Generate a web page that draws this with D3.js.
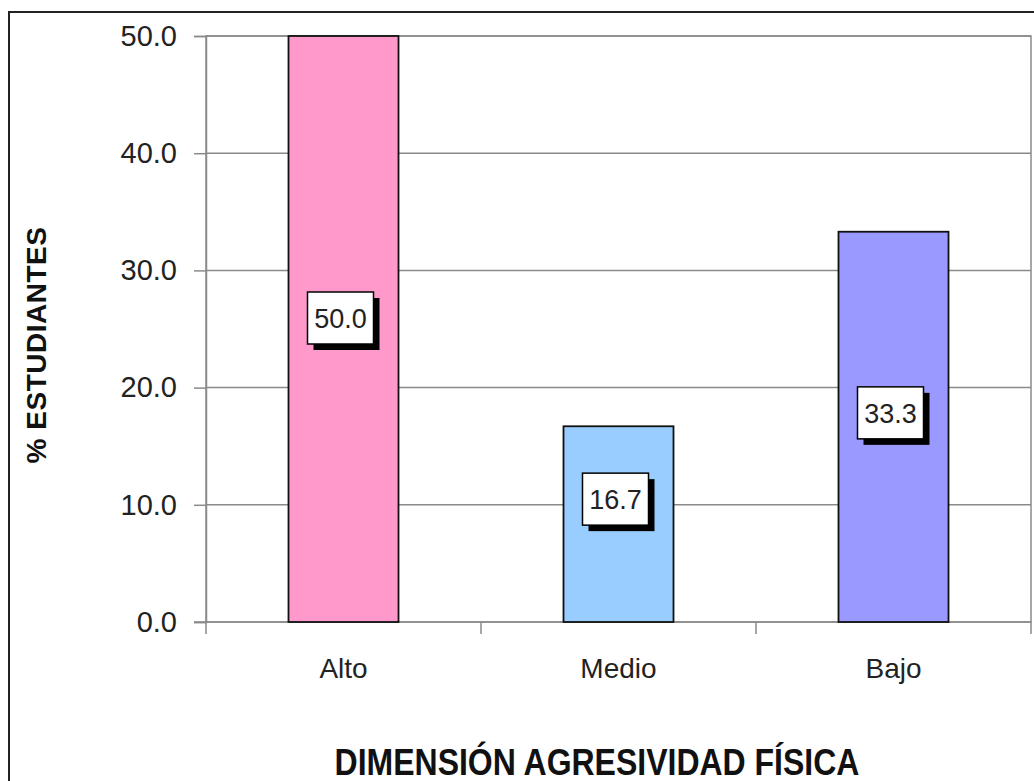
<!DOCTYPE html>
<html>
<head>
<meta charset="utf-8">
<script src="https://cdn.jsdelivr.net/npm/d3@7"></script>
<style>
  html, body { margin: 0; padding: 0; background: #ffffff; }
  svg { display: block; }
  text { font-family: "Liberation Sans", Arial, sans-serif; }
</style>
</head>
<body>
<svg id="chart" width="1034" height="781"></svg>
<script>
// ---- data ----
const categories = ["Alto", "Medio", "Bajo"];
const values = [50.0, 16.7, 33.3];
const yTicks = [0, 10, 20, 30, 40, 50];
const yTitle = "% ESTUDIANTES";
const xTitle = "DIMENSIÓN AGRESIVIDAD FÍSICA";

// ---- styles ----
const barColors = ["#FF99CC", "#99CCFF", "#9999FF"];
const labelNudge = [-11, -25, -14];

const svg = d3.select("#chart");
const W = 1034, H = 781;
const plot = { left: 206, right: 1031, top: 36, bottom: 622 };

// outer frame
svg.append("rect")
  .attr("x", 9).attr("y", 12)
  .attr("width", W + 10).attr("height", H + 10)
  .attr("fill", "#fff").attr("stroke", "#222").attr("stroke-width", 2);

const x = d3.scaleBand()
  .domain(categories)
  .range([plot.left, plot.right])
  .paddingInner(0.6).paddingOuter(0.3);

const y = d3.scaleLinear().domain([0, 50]).range([plot.bottom, plot.top]);

// plot area border (top/right)
svg.append("rect")
  .attr("x", plot.left).attr("y", plot.top)
  .attr("width", plot.right - plot.left).attr("height", plot.bottom - plot.top)
  .attr("fill", "none").attr("stroke", "#8a8a8a").attr("stroke-width", 1.5);

// gridlines
svg.append("g").selectAll("line").data(yTicks.filter(d => d > 0)).join("line")
  .attr("x1", plot.left).attr("x2", plot.right)
  .attr("y1", d => y(d)).attr("y2", d => y(d))
  .attr("stroke", "#8a8a8a").attr("stroke-width", 1.5);

// y axis
const yAxis = svg.append("g")
  .attr("transform", `translate(${plot.left},0)`)
  .call(d3.axisLeft(y).tickValues(yTicks).tickFormat(d3.format(".1f")).tickSize(12).tickPadding(17));
yAxis.select(".domain").attr("stroke", "#8a8a8a").attr("stroke-width", 1.5);
yAxis.selectAll(".tick line").attr("stroke", "#8a8a8a").attr("stroke-width", 1.5);
yAxis.selectAll(".tick text")
  .attr("font-size", 29).attr("fill", "#222")
  .attr("font-family", "Liberation Sans, Arial, sans-serif");

// x axis
const xEdges = d3.range(categories.length + 1).map(i => plot.left + i * x.step());
const xAxisG = svg.append("g");
xAxisG.append("line")
  .attr("x1", plot.left - 12).attr("x2", plot.right)
  .attr("y1", plot.bottom).attr("y2", plot.bottom)
  .attr("stroke", "#8a8a8a").attr("stroke-width", 1.5);
xAxisG.selectAll("line.tk").data(xEdges).join("line").attr("class", "tk")
  .attr("x1", d => d).attr("x2", d => d)
  .attr("y1", plot.bottom).attr("y2", plot.bottom + 12)
  .attr("stroke", "#8a8a8a").attr("stroke-width", 1.5);
xAxisG.selectAll("text").data(categories).join("text")
  .attr("x", d => x(d) + x.bandwidth() / 2)
  .attr("y", 678)
  .attr("text-anchor", "middle")
  .attr("font-size", 28).attr("fill", "#222")
  .text(d => d);

// bars
const data = categories.map((c, i) => ({ c, v: values[i], color: barColors[i], nudge: labelNudge[i] }));
svg.append("g").selectAll("rect").data(data).join("rect")
  .attr("x", d => x(d.c))
  .attr("y", d => y(d.v))
  .attr("width", x.bandwidth())
  .attr("height", d => y(0) - y(d.v))
  .attr("fill", d => d.color)
  .attr("stroke", "#111").attr("stroke-width", 1.8);

// data labels with shadow boxes
const bw = 66, bh = 52, sh = 6;
const lab = svg.append("g").selectAll("g").data(data).join("g")
  .attr("transform", d => {
    const cx = x(d.c) + x.bandwidth() / 2 - 3;
    const cy = (y(d.v) + y(0)) / 2 + d.nudge;
    return `translate(${cx},${cy})`;
  });
lab.append("rect")
  .attr("x", -bw / 2 + sh).attr("y", -bh / 2 + sh)
  .attr("width", bw).attr("height", bh).attr("fill", "#000");
lab.append("rect")
  .attr("x", -bw / 2).attr("y", -bh / 2)
  .attr("width", bw).attr("height", bh)
  .attr("fill", "#fff").attr("stroke", "#000").attr("stroke-width", 1.5);
lab.append("text")
  .attr("text-anchor", "middle").attr("y", 10)
  .attr("font-size", 27).attr("fill", "#222")
  .text(d => d3.format(".1f")(d.v));

// y title
svg.append("text")
  .attr("transform", "translate(46,345) rotate(-90)")
  .attr("text-anchor", "middle")
  .attr("font-size", 28).attr("font-weight", "bold").attr("fill", "#111")
  .attr("letter-spacing", 0.5)
  .text(yTitle);

// x title
svg.append("text")
  .attr("transform", "translate(597,775) scale(1,1.15)")
  .attr("text-anchor", "middle")
  .attr("font-size", 32).attr("font-weight", "bold").attr("fill", "#111")
  .text(xTitle);
</script>
</body>
</html>
